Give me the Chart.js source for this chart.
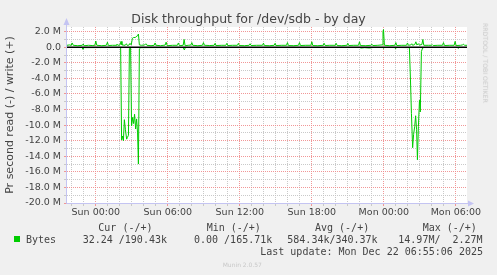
<!DOCTYPE html>
<html>
<head>
<meta charset="utf-8">
<script src="https://cdn.jsdelivr.net/npm/chart.js@4/dist/chart.umd.min.js"></script>
<style>
    html, body { margin: 0; padding: 0; background: #f0f0f0; }
    #wrap { position: relative; width: 497px; height: 275px; overflow: hidden; font-family: "DejaVu Sans", sans-serif; color: #444; }
    #chart { position: absolute; left: 0; top: 0; }
    .t { position: absolute; white-space: pre; line-height: 1; }
    .mono { font-family: "DejaVu Sans Mono", monospace; font-size: 10px; }
    .sq { position: absolute; left: 14px; top: 236px; width: 6px; height: 6px; background: #00cc00; }
</style>
</head>
<body>
<div id="wrap">
    <canvas id="chart" width="497" height="275"></canvas>
    <div class="t" style="left:0;width:497px;text-align:center;top:13.4px;font-size:12.5px;">Disk throughput for /dev/sdb - by day</div>
    <div class="t" style="left:485px;top:63px;font-size:6.2px;color:#c8c8c8;transform:translate(-50%,-50%) rotate(90deg);">RRDTOOL / TOBI OETIKER</div>
    <div id="legend"></div>
    <div class="t" style="left:222.7px;top:261.6px;font-size:6px;color:#c8c8c8;">Munin 2.0.57</div>
</div>
<script>
// values in MB/s, time in hours from Sun 00:00
const xMin = -2.4;
const xMax = 30.93;
const yMin = -20;
const yMax = 2.6;

const xTickHours = [0, 6, 12, 18, 24, 30];
const xTickLabels = ['Sun 00:00', 'Sun 06:00', 'Sun 12:00', 'Sun 18:00', 'Mon 00:00', 'Mon 06:00'];
const yTickValues = [2, 0, -2, -4, -6, -8, -10, -12, -14, -16, -18, -20];
const yTickLabels = ['2.0 M', '0.0', '-2.0 M', '-4.0 M', '-6.0 M', '-8.0 M', '-10.0 M', '-12.0 M', '-14.0 M', '-16.0 M', '-18.0 M', '-20.0 M'];

const writeSeries = [
    [-2.4,0.25],[-2.2,0.3],[-2.05,0.25],[-1.97,0.55],[-1.88,0.25],[-1.5,0.2],[-1.12,0.25],[-1.05,0.42],[-0.97,0.2],
    [-0.6,0.25],[-0.3,0.22],[-0.08,0.25],[0.0,0.8],[0.08,0.25],[0.5,0.2],[0.88,0.25],[0.97,0.65],[1.05,0.22],
    [1.4,0.25],[1.7,0.25],[1.76,0.4],[1.84,0.25],[2.02,0.3],[2.1,0.75],[2.18,0.3],[2.45,0.25],[2.55,0.45],[2.63,0.22],
    [2.78,0.3],[2.85,0.5],[2.95,0.3],[3.05,1.15],[3.15,1.25],[3.3,1.25],[3.42,1.45],[3.5,1.5],[3.55,1.7],[3.63,0.3],
    [3.8,0.25],[4.08,0.3],[4.17,0.45],[4.26,0.25],[4.6,0.2],[4.86,0.25],[4.94,0.55],[5.02,0.25],[5.4,0.2],[5.78,0.28],
    [5.86,0.65],[5.95,0.2],[6.4,0.25],[6.8,0.25],[6.88,0.55],[6.97,0.2],[7.28,0.25],[7.36,1.0],[7.44,0.2],[7.7,0.25],
    [7.92,0.28],[8.0,0.6],[8.08,0.25],[8.5,0.2],[8.89,0.25],[8.97,0.6],[9.05,0.25],[9.5,0.22],[9.86,0.25],[9.94,0.5],
    [10.02,0.22],[10.5,0.25],[10.84,0.25],[10.92,0.5],[11.0,0.22],[11.4,0.25],[11.8,0.25],[11.88,0.5],[11.96,0.22],
    [12.4,0.2],[12.78,0.25],[12.86,0.45],[12.94,0.22],[13.4,0.25],[13.89,0.25],[13.97,0.52],[14.05,0.22],[14.5,0.2],
    [14.86,0.25],[14.94,0.5],[15.02,0.22],[15.5,0.25],[15.89,0.25],[15.97,0.6],[16.05,0.22],[16.5,0.2],[16.89,0.25],
    [16.97,0.6],[17.05,0.22],[17.5,0.25],[17.92,0.25],[18.0,0.7],[18.08,0.22],[18.5,0.2],[18.95,0.25],[19.03,0.5],
    [19.11,0.22],[19.5,0.25],[19.95,0.25],[20.03,0.5],[20.11,0.22],[20.5,0.2],[20.92,0.25],[21.0,0.5],[21.08,0.22],
    [21.5,0.25],[21.89,0.25],[21.97,0.7],[22.05,0.22],[22.5,0.2],[22.92,0.25],[23.0,0.4],[23.08,0.22],[23.5,0.25],
    [23.85,0.3],[23.93,2.0],[23.97,2.27],[24.05,0.25],[24.5,0.2],[24.92,0.25],[25.0,0.6],[25.08,0.22],[25.5,0.25],
    [25.89,0.25],[25.97,0.55],[26.05,0.25],[26.25,0.3],[26.33,0.45],[26.4,0.25],[26.58,0.35],[26.67,0.7],[26.75,0.3],
    [26.88,0.45],[26.96,0.28],[27.17,0.35],[27.25,1.0],[27.33,0.25],[27.7,0.25],[27.95,0.25],[28.03,0.35],[28.11,0.22],
    [28.5,0.25],[28.89,0.25],[28.97,0.6],[29.05,0.22],[29.5,0.25],[29.86,0.25],[29.94,0.75],[30.02,0.22],[30.4,0.25],
    [30.55,0.3],[30.63,0.4],[30.72,0.25],[30.93,0.25]
];

// read is drawn below zero
const readSeries = [
    [-2.4,-0.03],[-1.15,-0.03],[-1.07,-0.25],[-0.98,-0.05],[2.0,-0.03],[2.07,-0.1],[2.15,-11.9],[2.23,-11.4],
    [2.3,-12.0],[2.38,-9.3],[2.47,-10.6],[2.57,-11.8],[2.63,-11.6],[2.72,-11.3],[2.8,-0.15],[2.9,-0.1],[2.98,-10.1],
    [3.07,-9.0],[3.15,-9.8],[3.23,-8.6],[3.32,-10.5],[3.4,-9.2],[3.48,-11.0],[3.55,-15.0],[3.63,-0.2],[3.75,-0.05],
    [7.28,-0.03],[7.38,-0.35],[7.46,-0.03],[22.0,-0.03],[22.1,-0.1],[22.4,-0.05],[22.8,-0.1],[23.1,-0.03],[23.9,-0.03],
    [23.99,-0.15],[24.07,-0.03],[24.9,-0.03],[24.98,-0.2],[25.06,-0.03],[26.13,-0.05],[26.22,-4.2],[26.3,-8.5],
    [26.4,-12.9],[26.48,-11.2],[26.57,-10.2],[26.65,-8.8],[26.73,-10.6],[26.8,-14.45],[26.88,-10.2],[26.97,-6.8],
    [27.04,-8.3],[27.13,-0.55],[27.23,-0.1],[27.35,-0.03],[30.12,-0.03],[30.2,-0.15],[30.28,-0.03],[30.93,-0.03]
];

const legendHeaders = ['Cur (-/+)', 'Min (-/+)', 'Avg (-/+)', 'Max (-/+)'];
const legendValues = ['32.24 /190.43k', '0.00 /165.71k', '584.34k/340.37k', '14.97M/  2.27M'];
const legendName = 'Bytes';
const lastUpdate = 'Last update: Mon Dec 22 06:55:06 2025';

const lineColor = '#00cc00';
const majorGrid = 'rgba(240,140,140,0.9)';
const minorGrid = 'rgba(195,195,195,0.9)';
const axisColor = '#c4c4f2';

// legend text, monospace like rrdtool
const legend = document.getElementById('legend');
const headerX = [98.3, 206.7, 315, 422.7];
const valueX = [82.7, 194, 287.3, 398.3];
let html = '<div class="sq"></div>';
html += `<div class="t mono" style="left:26px;top:234.5px">${legendName}</div>`;
legendHeaders.forEach((h, i) => {
    html += `<div class="t mono" style="left:${headerX[i]}px;top:222.5px">${h}</div>`;
});
legendValues.forEach((v, i) => {
    html += `<div class="t mono" style="left:${valueX[i]}px;top:234.5px">${v}</div>`;
});
html += `<div class="t mono" style="right:14px;top:246.5px">${lastUpdate}</div>`;
legend.innerHTML = html;

const muninPlugin = {
    id: 'munin',
    beforeDraw(chart) {
        const { ctx, chartArea: a } = chart;
        ctx.save();
        ctx.fillStyle = '#ffffff';
        ctx.fillRect(a.left, a.top, a.right - a.left, a.bottom - a.top);
        ctx.restore();
    },
    beforeDatasetsDraw(chart) {
        const { ctx, chartArea: a } = chart;
        const x0 = Math.round(a.left) - 0.5;
        const y0 = Math.round(a.bottom) + 0.5;
        ctx.save();
        ctx.strokeStyle = axisColor;
        ctx.fillStyle = axisColor;
        ctx.lineWidth = 1;
        ctx.beginPath();
        ctx.moveTo(x0, y0);
        ctx.lineTo(x0, a.top - 4);
        ctx.moveTo(x0, y0);
        ctx.lineTo(a.right + 2, y0);
        ctx.stroke();
        // arrow heads
        ctx.beginPath();
        ctx.moveTo(x0, a.top - 9);
        ctx.lineTo(x0 - 3, a.top - 2);
        ctx.lineTo(x0 + 3, a.top - 2);
        ctx.closePath();
        ctx.fill();
        ctx.beginPath();
        ctx.moveTo(a.right + 7, y0);
        ctx.lineTo(a.right + 1, y0 - 3);
        ctx.lineTo(a.right + 1, y0 + 3);
        ctx.closePath();
        ctx.fill();
        ctx.restore();
    }
};

const toPoints = s => s.map(p => ({ x: p[0], y: p[1] }));

Chart.defaults.font.family = '"DejaVu Sans", sans-serif';
Chart.defaults.color = '#444';

new Chart(document.getElementById('chart'), {
    type: 'line',
    data: {
        datasets: [
            {
                label: 'zero',
                data: [{ x: xMin, y: 0 }, { x: xMax, y: 0 }],
                borderColor: '#000000',
                borderWidth: 1.5,
                pointRadius: 0,
                order: 0
            },
            {
                label: 'write',
                data: toPoints(writeSeries),
                borderColor: lineColor,
                borderWidth: 1,
                pointRadius: 0,
                tension: 0,
                order: 1
            },
            {
                label: 'read',
                data: toPoints(readSeries),
                borderColor: lineColor,
                borderWidth: 1,
                pointRadius: 0,
                tension: 0,
                order: 2
            }
        ]
    },
    options: {
        responsive: false,
        animation: false,
        events: [],
        layout: { padding: { top: 27, right: 30, bottom: 52, left: 0 } },
        plugins: {
            legend: { display: false },
            tooltip: { enabled: false }
        },
        scales: {
            x: {
                type: 'linear',
                min: xMin,
                max: xMax,
                afterBuildTicks: scale => {
                    const ticks = [];
                    for (let h = -2; h <= 30; h++) ticks.push({ value: h });
                    scale.ticks = ticks;
                },
                afterFit: scale => { scale.height = 20; },
                ticks: {
                    autoSkip: false,
                    maxRotation: 0,
                    padding: 1,
                    font: { size: 9.5 },
                    callback: value => {
                        const i = xTickHours.indexOf(value);
                        return i >= 0 ? xTickLabels[i] : '';
                    }
                },
                grid: {
                    color: c => (c.tick && xTickHours.includes(c.tick.value)) ? majorGrid : minorGrid,
                    tickColor: c => (c.tick && xTickHours.includes(c.tick.value)) ? majorGrid : minorGrid,
                    tickLength: 3,
                    lineWidth: 1
                },
                border: { display: false, dash: [1, 1] }
            },
            y: {
                type: 'linear',
                min: yMin,
                max: yMax,
                afterBuildTicks: scale => {
                    const ticks = [];
                    for (let v = yMin; v <= 2; v++) ticks.push({ value: v });
                    scale.ticks = ticks;
                },
                afterFit: scale => { scale.width = 67; },
                ticks: {
                    autoSkip: false,
                    padding: 3,
                    font: { size: 9.5 },
                    callback: value => {
                        const i = yTickValues.indexOf(value);
                        return i >= 0 ? yTickLabels[i] : '';
                    }
                },
                grid: {
                    color: c => (c.tick && yTickValues.includes(c.tick.value)) ? majorGrid : minorGrid,
                    tickColor: c => (c.tick && yTickValues.includes(c.tick.value)) ? majorGrid : minorGrid,
                    tickLength: 3,
                    lineWidth: 1
                },
                border: { display: false, dash: [1, 1] },
                title: {
                    display: true,
                    text: 'Pr second read (-) / write (+)',
                    font: { size: 11 },
                    color: '#444',
                    padding: { top: 4, bottom: 0 }
                }
            }
        }
    },
    plugins: [muninPlugin]
});
</script>
</body>
</html>
